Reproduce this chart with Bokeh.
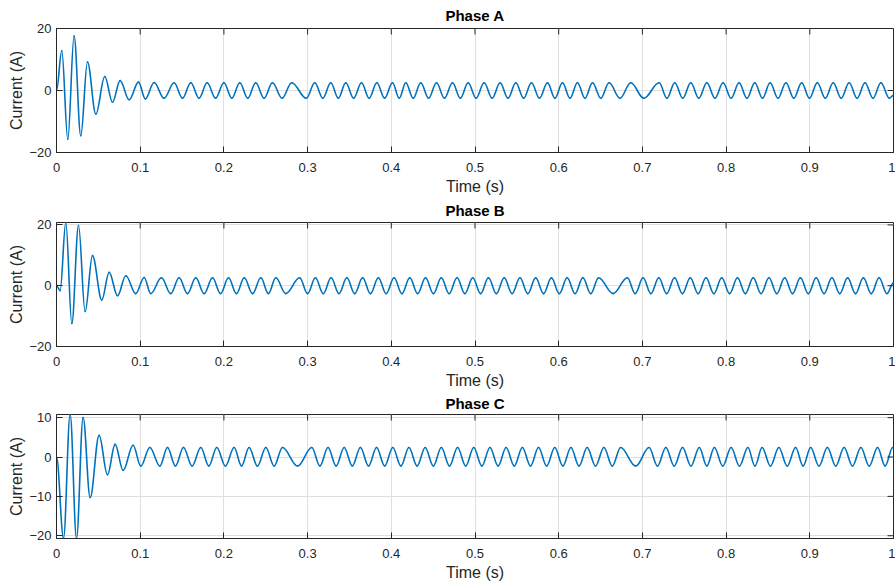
import numpy as np
from bokeh.plotting import figure
from bokeh.layouts import column
from bokeh.models import FixedTicker, Range1d, ColumnDataSource, Title
from bokeh.embed import file_html
from bokeh.resources import INLINE

# ---------------- data (extrema of each current trace) -------------
time_ticks = [0, 0.1, 0.2, 0.3, 0.4, 0.5, 0.6, 0.7, 0.8, 0.9, 1]
time_labels = ["0", "0.1", "0.2", "0.3", "0.4", "0.5", "0.6", "0.7", "0.8", "0.9", "1"]

phase_a_t = [0.0, 0.0063, 0.0135, 0.0210, 0.0290, 0.0370, 0.0470, 0.0577, 0.0669, 0.0760,
             0.0868, 0.0980, 0.1061, 0.1166, 0.1285, 0.1405, 0.1505, 0.1605, 0.1703, 0.1800,
             0.1900, 0.2000, 0.2095, 0.2190, 0.2285, 0.2380, 0.2480, 0.2580, 0.2695, 0.2810,
             0.2985, 0.3086, 0.3182, 0.3277, 0.3367, 0.3456, 0.3550, 0.3644, 0.3735, 0.3827,
             0.3920, 0.4014, 0.4095, 0.4173, 0.4262, 0.4352, 0.4446, 0.4540, 0.4635, 0.4731,
             0.4825, 0.4918, 0.5013, 0.5109, 0.5205, 0.5300, 0.5394, 0.5488, 0.5581, 0.5675,
             0.5770, 0.5866, 0.5955, 0.6045, 0.6135, 0.6224, 0.6314, 0.6404, 0.6503, 0.6602,
             0.6732, 0.6861, 0.7017, 0.7200, 0.7293, 0.7387, 0.7482, 0.7578, 0.7674, 0.7770,
             0.7867, 0.7964, 0.8060, 0.8155, 0.8249, 0.8343, 0.8435, 0.8526, 0.8620, 0.8715,
             0.8809, 0.8903, 0.8996, 0.9090, 0.9185, 0.9280, 0.9375, 0.9470, 0.9565, 0.9660,
             0.9755, 0.9850, 0.9950, 1.0]
phase_a_i = [0.0, 12.8, -15.7, 17.6, -14.6, 9.2, -7.6, 4.5, -3.8, 3.2,
             -3.0, 2.7, -2.7, 2.6, -2.5, 2.5, -2.5, 2.5, -2.5, 2.5,
             -2.5, 2.5, -2.5, 2.5, -2.5, 2.5, -2.5, 2.5, -2.5, 2.5,
             -2.5, 2.5, -2.5, 2.5, -2.5, 2.5, -2.5, 2.5, -2.5, 2.5,
             -2.5, 2.5, -2.5, 2.5, -2.5, 2.5, -2.5, 2.5, -2.5, 2.5,
             -2.5, 2.5, -2.5, 2.5, -2.5, 2.5, -2.5, 2.5, -2.5, 2.5,
             -2.5, 2.5, -2.5, 2.5, -2.5, 2.5, -2.5, 2.5, -2.5, 2.5,
             -2.5, 2.5, -2.5, 2.5, -2.5, 2.5, -2.5, 2.5, -2.5, 2.5,
             -2.5, 2.5, -2.5, 2.5, -2.5, 2.5, -2.5, 2.5, -2.5, 2.5,
             -2.5, 2.5, -2.5, 2.5, -2.5, 2.5, -2.5, 2.5, -2.5, 2.5,
             -2.5, 2.5, -2.5, -1.5]

phase_b_t = [0.0, 0.0043, 0.0111, 0.0183, 0.0263, 0.0342, 0.0430, 0.0541, 0.0629, 0.0729,
             0.0828, 0.0947, 0.1047, 0.1126, 0.1254, 0.1365, 0.1465, 0.1565, 0.1664, 0.1764,
             0.1864, 0.1960, 0.2055, 0.2150, 0.2243, 0.2342, 0.2442, 0.2531, 0.2620, 0.2740,
             0.2905, 0.3000, 0.3093, 0.3187, 0.3281, 0.3375, 0.3469, 0.3563, 0.3657, 0.3751,
             0.3845, 0.3939, 0.4033, 0.4127, 0.4221, 0.4315, 0.4409, 0.4503, 0.4597, 0.4691,
             0.4785, 0.4879, 0.4973, 0.5067, 0.5161, 0.5255, 0.5349, 0.5443, 0.5537, 0.5631,
             0.5725, 0.5819, 0.5913, 0.6007, 0.6101, 0.6195, 0.6289, 0.6383, 0.6477, 0.6650,
             0.6820, 0.6914, 0.7008, 0.7102, 0.7196, 0.7290, 0.7384, 0.7478, 0.7572, 0.7666,
             0.7760, 0.7854, 0.7948, 0.8042, 0.8136, 0.8230, 0.8324, 0.8418, 0.8512, 0.8606,
             0.8700, 0.8794, 0.8888, 0.8982, 0.9076, 0.9170, 0.9264, 0.9358, 0.9452, 0.9546,
             0.9640, 0.9734, 0.9828, 0.9922, 1.0]
phase_b_i = [0.0, -1.6, 20.8, -12.4, 19.8, -8.5, 9.9, -4.7, 4.4, -3.3,
             3.3, -2.6, 2.7, -2.6, 2.6, -2.6, 2.6, -2.6, 2.6, -2.6,
             2.6, -2.6, 2.6, -2.6, 2.6, -2.6, 2.6, -2.6, 2.6, -2.6,
             2.6, -2.6, 2.6, -2.6, 2.6, -2.6, 2.6, -2.6, 2.6, -2.6,
             2.6, -2.6, 2.6, -2.6, 2.6, -2.6, 2.6, -2.6, 2.6, -2.6,
             2.6, -2.6, 2.6, -2.6, 2.6, -2.6, 2.6, -2.6, 2.6, -2.6,
             2.6, -2.6, 2.6, -2.6, 2.6, -2.6, 2.6, -2.6, 2.6, -2.6,
             2.6, -2.6, 2.6, -2.6, 2.6, -2.6, 2.6, -2.6, 2.6, -2.6,
             2.6, -2.6, 2.6, -2.6, 2.6, -2.6, 2.6, -2.6, 2.6, -2.6,
             2.6, -2.6, 2.6, -2.6, 2.6, -2.6, 2.6, -2.6, 2.6, -2.6,
             2.6, -2.6, 2.6, -2.6, 1.0]

phase_c_t = [0.0, 0.0084, 0.0163, 0.0239, 0.0318, 0.0402, 0.0509, 0.0609, 0.0700, 0.0796,
             0.0915, 0.1007, 0.1115, 0.1235, 0.1326, 0.1421, 0.1517, 0.1620, 0.1724, 0.1820,
             0.1915, 0.2018, 0.2122, 0.2211, 0.2301, 0.2401, 0.2501, 0.2600, 0.2700, 0.2880,
             0.3050, 0.3147, 0.3244, 0.3341, 0.3437, 0.3534, 0.3631, 0.3728, 0.3824, 0.3921,
             0.4018, 0.4115, 0.4211, 0.4308, 0.4405, 0.4502, 0.4598, 0.4695, 0.4792, 0.4889,
             0.4985, 0.5082, 0.5179, 0.5276, 0.5372, 0.5469, 0.5566, 0.5663, 0.5759, 0.5856,
             0.5953, 0.6050, 0.6146, 0.6243, 0.6340, 0.6440, 0.6540, 0.6640, 0.6740, 0.6920,
             0.7080, 0.7180, 0.7280, 0.7380, 0.7480, 0.7580, 0.7680, 0.7770, 0.7860, 0.7960,
             0.8060, 0.8160, 0.8260, 0.8345, 0.8430, 0.8530, 0.8630, 0.8730, 0.8830, 0.8920,
             0.9010, 0.9110, 0.9210, 0.9310, 0.9410, 0.9510, 0.9610, 0.9710, 0.9810, 0.9900,
             0.9990, 1.0]
phase_c_i = [0.0, -20.6, 10.8, -20.7, 10.0, -10.3, 5.5, -4.5, 3.2, -3.4,
             3.0, -2.3, 2.4, -2.3, 2.4, -2.3, 2.4, -2.3, 2.4, -2.3,
             2.4, -2.3, 2.4, -2.3, 2.4, -2.3, 2.4, -2.3, 2.4, -2.3,
             2.4, -2.3, 2.4, -2.3, 2.4, -2.3, 2.4, -2.3, 2.4, -2.3,
             2.4, -2.3, 2.4, -2.3, 2.4, -2.3, 2.4, -2.3, 2.4, -2.3,
             2.4, -2.3, 2.4, -2.3, 2.4, -2.3, 2.4, -2.3, 2.4, -2.3,
             2.4, -2.3, 2.4, -2.3, 2.4, -2.3, 2.4, -2.3, 2.4, -2.3,
             2.4, -2.3, 2.4, -2.3, 2.4, -2.3, 2.4, -2.3, 2.4, -2.3,
             2.4, -2.3, 2.4, -2.3, 2.4, -2.3, 2.4, -2.3, 2.4, -2.3,
             2.4, -2.3, 2.4, -2.3, 2.4, -2.3, 2.4, -2.3, 2.4, -2.3,
             2.4, 2.2]

a_ticks = [-20, 0, 20]
b_ticks = [-20, 0, 20]
c_ticks = [-20, -10, 0, 10]

# ---------------- styling -------------
FONT = "Liberation Sans"
AX = "#262626"
GRID = "#dfdfdf"
LINE = "#0072BD"
W = 895
BL, BR = 56, 2
FRAME_H = 124
TICK = 6


def curve_source(t, y):
    t = np.asarray(t, dtype=float)
    y = np.asarray(y, dtype=float)
    t0, t1 = t[:-1], t[1:]
    y0, y1 = y[:-1], y[1:]
    k = 0.3634 * (t1 - t0)          # cubic-bezier approximation of a half cosine
    return ColumnDataSource(dict(x0=t0, y0=y0, x1=t1, y1=y1,
                                 cx0=t0 + k, cy0=y0, cx1=t1 - k, cy1=y1))


def style_axis(ax):
    ax.axis_line_color = AX
    ax.major_tick_line_color = AX
    ax.major_tick_in = TICK
    ax.major_tick_out = 0
    ax.minor_tick_line_color = None
    ax.major_label_text_font = FONT
    ax.major_label_text_font_size = "13px"
    ax.major_label_text_color = AX
    ax.axis_label_text_font = FONT
    ax.axis_label_text_font_size = "16px"
    ax.axis_label_text_font_style = "normal"
    ax.axis_label_text_color = AX


def panel(name, t, y, ylo, yhi, yticks, height, btop, bbottom, title_off):
    p = figure(width=W, height=height, x_range=Range1d(0, 1), y_range=Range1d(ylo, yhi),
               output_backend="svg", toolbar_location=None, title=None,
               min_border_left=BL, min_border_right=BR, min_border_top=btop,
               min_border_bottom=bbottom, background_fill_color="white",
               border_fill_color="white")
    p.outline_line_color = AX
    p.outline_line_width = 1
    p.outline_line_alpha = 1

    xt = FixedTicker(ticks=time_ticks)
    yt = FixedTicker(ticks=yticks)
    p.xaxis.ticker = xt
    p.yaxis.ticker = yt
    p.xaxis.major_label_overrides = dict(zip(time_ticks, time_labels))
    p.xaxis.axis_label = "Time (s)"
    p.yaxis.axis_label = "Current (A)"
    for ax in p.xaxis:
        style_axis(ax)
        ax.major_label_standoff = 10
        ax.axis_label_standoff = 3
    for ax in p.yaxis:
        style_axis(ax)
        ax.major_label_standoff = 5
        ax.axis_label_standoff = 1

    p.xgrid.ticker = xt
    p.ygrid.ticker = yt
    p.xgrid.grid_line_color = GRID
    p.ygrid.grid_line_color = GRID

    p.add_layout(Title(text=name, text_font=FONT, text_font_size="15px",
                       text_font_style="bold", text_color="black", align="center",
                       vertical_align="top", standoff=title_off), "above")

    src = curve_source(t, y)
    p.bezier(x0="x0", y0="y0", x1="x1", y1="y1", cx0="cx0", cy0="cy0",
             cx1="cx1", cy1="cy1", source=src, line_color=LINE, line_width=1.6,
             line_cap="round")

    # mirrored inward ticks on the top and right edges of the box
    frame_w = W - BL - BR
    dy = TICK * (yhi - ylo) / FRAME_H
    dx = TICK * 1.0 / frame_w
    inner_x = time_ticks[1:-1]
    p.segment(x0=inner_x, y0=[yhi] * len(inner_x), x1=inner_x, y1=[yhi - dy] * len(inner_x),
              line_color=AX, line_width=1)
    p.segment(x0=[1] * len(yticks), y0=yticks, x1=[1 - dx] * len(yticks), y1=yticks,
              line_color=AX, line_width=1)
    return p


pa = panel("Phase A", phase_a_t, phase_a_i, -20, 20, a_ticks, 199, 28, 47, 6)
pb = panel("Phase B", phase_b_t, phase_b_i, -20, 20.8, b_ticks, 194, 23, 47, 4)
pc = panel("Phase C", phase_c_t, phase_c_i, -20.7, 10.8, c_ticks, 194, 21, 49, 2)

layout = column(pa, pb, pc, spacing=0)
open("out.html", "w").write(file_html(layout, INLINE))
